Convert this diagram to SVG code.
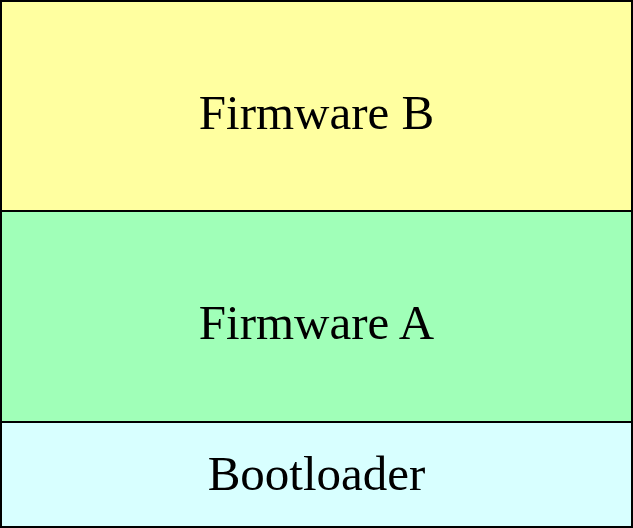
<svg xmlns="http://www.w3.org/2000/svg" width="633" height="528" viewBox="0 0 633 528">
<style>
.box{stroke:#000;stroke-width:2}
.lbl{font-family:"Liberation Serif","DejaVu Serif",serif;font-size:49px;fill:#000;text-anchor:middle}
</style>
<rect width="633" height="528" fill="#fff"/>
<g id="firmware-b"><rect class="box" x="1" y="1" width="631" height="210" fill="#ffffa0"/><text class="lbl" x="316.5" y="129">Firmware B</text></g>
<g id="firmware-a"><rect class="box" x="1" y="211" width="631" height="211" fill="#a0ffb8"/><text class="lbl" x="316.5" y="339">Firmware A</text></g>
<g id="bootloader"><rect class="box" x="1" y="422" width="631" height="105" fill="#d8ffff"/><text class="lbl" x="316.5" y="490">Bootloader</text></g>
<g id="connectors"/>
</svg>
